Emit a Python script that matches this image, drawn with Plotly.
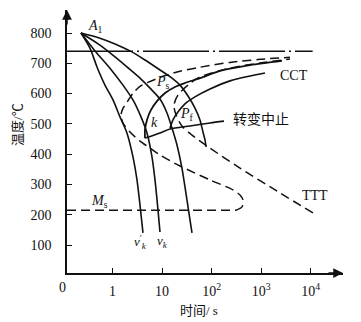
import math
import plotly.graph_objects as go

# --- data: time in seconds (log axis), temperature in °C ---
A1_TIME, A1_TEMP = 0.23, 800
CRIT_TEMP = 740          # dash-dot critical line
MS_TEMP = 215            # martensite start

# cooling curves starting at A1
cool_vk1_t = [0.23, 0.349, 0.484, 0.702, 1.02, 1.41, 1.95, 2.58, 3.11, 3.58, 4.11]
cool_vk1_T = [800, 750, 688, 628, 579, 523, 470, 391, 315, 232, 140]
cool_vk_t = [0.23, 0.441, 0.885, 1.62, 2.58, 3.75, 4.95, 6.25, 7.19, 8.26, 9.07]
cool_vk_T = [800, 741, 684, 628, 579, 523, 470, 391, 315, 216, 143]
cool_3_t = [0.23, 0.556, 1.12, 1.95, 3.58, 5.70, 9.07, 12.56, 15.85, 20.0, 25.2, 31.8, 40.2]
cool_3_T = [800, 760, 721, 688, 651, 618, 582, 536, 486, 430, 354, 249, 140]
cool_4_t = [0.23, 0.556, 1.12, 2.25, 4.51, 9.07, 15.85, 23.0, 33.4, 46.2, 58.3, 67.0, 73.6, 77.1]
cool_4_T = [800, 783, 764, 741, 711, 678, 651, 628, 592, 552, 513, 473, 447, 424]

# Ms line and the TTT start curve that bends up from its right end
ms_t = [0.12, 311]
ttt_start_t = [311, 411, 431, 375, 271, 92.9, 23.0, 9.07, 5.70, 3.58, 2.25, 1.62, 1.48,
               1.62, 1.95, 2.58, 3.58, 5.19, 10.4, 23.0, 58.3, 236, 951, 3840]
ttt_start_T = [MS_TEMP, 226, 249, 265, 282, 315, 361, 397, 420, 443, 473, 503, 529,
               551, 571, 601, 624, 637, 657, 674, 687, 703, 713, 720]
# TTT finish curve
ttt_end_t = [11170, 2410, 375, 92.9, 40.2, 25.2, 19.2, 17.4, 20.9, 33.4, 58.3, 236, 951, 3840]
ttt_end_T = [206, 272, 354, 420, 463, 493, 529, 562, 595, 628, 655, 684, 701, 714]

# CCT start / finish and the transformation-stop line
cct_ps_t = [4.51, 4.51, 4.95, 5.97, 7.89, 11.5, 18.2, 29.0, 58.3, 148, 597, 2643]
cct_ps_T = [453, 480, 513, 546, 575, 602, 622, 635, 651, 675, 694, 708]
cct_pf_t = [14.5, 16.6, 20.9, 29.0, 46.2, 92.9, 236, 597, 1200]
cct_pf_T = [486, 513, 539, 566, 589, 615, 642, 658, 668]
stop_t = [4.51, 9.07, 14.5, 36.6, 92.9, 178]
stop_T = [453, 470, 483, 493, 503, 509]

x_tickvals = [1, 10, 100, 1000, 10000]
x_ticktext = ["1", "10", "10<sup>2</sup>", "10<sup>3</sup>", "10<sup>4</sup>"]
y_tickvals = [100, 200, 300, 400, 500, 600, 700, 800]

X_LOG_MIN, X_LOG_MAX = -0.921, 4.655
Y_MIN, Y_MAX = 7.6, 876

SERIF = "Liberation Serif, Times New Roman, Noto Sans CJK SC, serif"
INK = "#111111"
DASH = "9px,5px"

fig = go.Figure()


def add_line(t, T, dash="solid", width=1.6, smooth=True):
    fig.add_trace(go.Scatter(x=t, y=T, mode="lines",
                             line=dict(color=INK, width=width, dash=dash,
                                       shape="spline" if smooth else "linear",
                                       smoothing=0.8 if smooth else None),
                             hoverinfo="skip", showlegend=False))


# critical temperature line (long dash-dot)
add_line([10 ** X_LOG_MIN, 11000], [CRIT_TEMP, CRIT_TEMP],
         dash="66px,4px,2px,4px", width=1.4, smooth=False)

for t, T in [(cool_vk1_t, cool_vk1_T), (cool_vk_t, cool_vk_T),
             (cool_3_t, cool_3_T), (cool_4_t, cool_4_T)]:
    add_line(t, T)

add_line(ms_t, [MS_TEMP, MS_TEMP], dash=DASH, width=1.5, smooth=False)
add_line(ttt_start_t, ttt_start_T, dash=DASH, width=1.5)
add_line(ttt_end_t, ttt_end_T, dash=DASH, width=1.5)
add_line(cct_ps_t, cct_ps_T, width=1.8)
add_line(cct_pf_t, cct_pf_T)
add_line(stop_t, stop_T)

# text labels (time, temperature, text, size)
labels = [
    (0.443, 823, "<i>A</i><sub>1</sub>", 14),
    (10.4, 638, "<i>P</i><sub>s</sub>", 14),
    (32, 532, "<i>P</i><sub>f</sub>", 14),
    (7.19, 506, "<i>k</i>", 14),
    (1000, 513, "转变中止", 14),
    (4680, 661, "CCT", 14),
    (12270, 262, "TTT", 14),
    (0.556, 245, "<i>M</i><sub>s</sub>", 14),
    (3.6, 110, "<i>v</i><sup>′</sup><sub><i>k</i></sub>", 13),
    (10, 110, "<i>v</i><sub><i>k</i></sub>", 13),
]
for t, T, txt, size in labels:
    fig.add_annotation(x=math.log10(t), y=T, xref="x", yref="y", text=txt, showarrow=False,
                       xanchor="center", yanchor="middle",
                       font=dict(family=SERIF, size=size, color=INK))

# axis titles
fig.add_annotation(x=-0.1775, y=0.563, xref="paper", yref="paper", text="温度/℃",
                   textangle=-90, showarrow=False, xanchor="center", yanchor="middle",
                   font=dict(family=SERIF, size=13, color=INK))
fig.add_annotation(x=0.478, y=-0.144, xref="paper", yref="paper", text="时间/ s",
                   showarrow=False, xanchor="center", yanchor="middle",
                   font=dict(family=SERIF, size=13, color=INK))
# origin label
fig.add_annotation(x=-0.0145, y=-0.057, xref="paper", yref="paper", text="0",
                   showarrow=False, xanchor="center", yanchor="middle",
                   font=dict(family=SERIF, size=14, color=INK))

# axis arrowheads
fig.add_annotation(x=0, y=1.0, xref="paper", yref="paper", ax=0, ay=16,
                   showarrow=True, arrowhead=2, arrowsize=1.3, arrowwidth=1.5,
                   arrowcolor=INK, text="")
fig.add_annotation(x=1.0, y=0, xref="paper", yref="paper", ax=-16, ay=0,
                   showarrow=True, arrowhead=2, arrowsize=1.3, arrowwidth=1.5,
                   arrowcolor=INK, text="")

fig.update_xaxes(type="log", range=[X_LOG_MIN, X_LOG_MAX], tickvals=x_tickvals,
                 ticktext=x_ticktext, ticks="inside", ticklen=5, tickwidth=1.3,
                 tickcolor=INK, showline=True, linecolor=INK, linewidth=1.5,
                 showgrid=False, zeroline=False, ticklabelstandoff=4,
                 tickfont=dict(family=SERIF, size=14, color=INK))
fig.update_yaxes(range=[Y_MIN, Y_MAX], tickvals=y_tickvals, ticks="inside", ticklen=5,
                 tickwidth=1.3, tickcolor=INK, showline=True, linecolor=INK, linewidth=1.5,
                 showgrid=False, zeroline=False, ticklabelstandoff=11,
                 tickfont=dict(family=SERIF, size=14, color=INK))

fig.update_layout(width=361, height=322, margin=dict(l=67, r=18, t=10, b=49),
                  plot_bgcolor="white", paper_bgcolor="white")

fig.write_html("out.html")
